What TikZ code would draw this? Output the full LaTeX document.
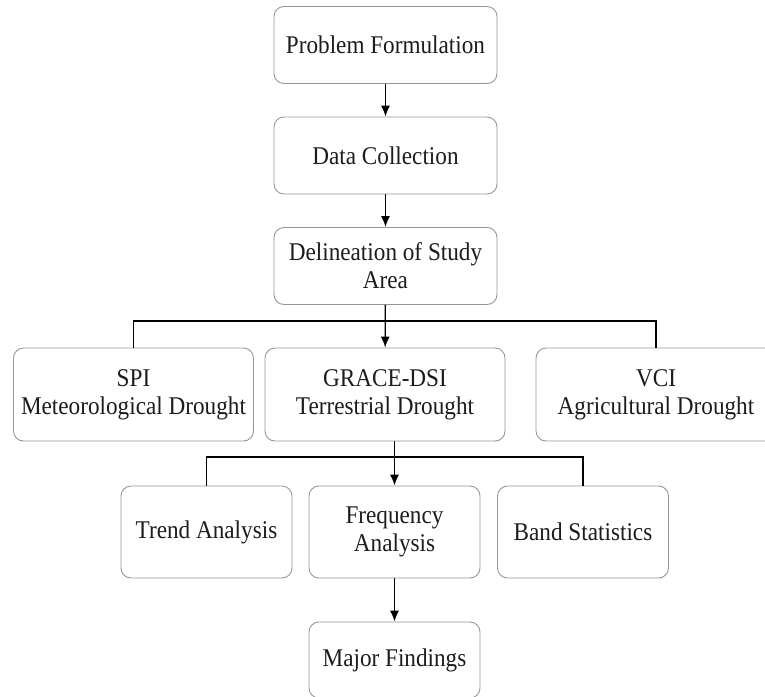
\documentclass[tikz,border=0pt]{standalone}
\usepackage{fontspec}
\setmainfont{Liberation Serif}[FakeStretch=0.91]
\usetikzlibrary{arrows.meta,calc}
\definecolor{boxline}{RGB}{150,150,150}
\definecolor{inktext}{RGB}{28,28,28}

\tikzset{
    stagebox/.style={draw=boxline, line width=0.9pt, rounded corners=10pt,
        align=center, text=inktext, inner sep=0pt,
        font=\fontsize{25.5}{28}\selectfont},
    topbox/.style={stagebox, minimum width=223pt, minimum height=77pt},
    indexbox/.style={stagebox, minimum width=240pt, minimum height=93pt},
    stepbox/.style={stagebox, minimum width=171pt, minimum height=92pt},
    flowline/.style={line width=1.3pt, black},
    flowarrow/.style={flowline, -{Latex[length=11pt,width=9pt]}}
}

\begin{document}
\begin{tikzpicture}[x=1pt, y=-1pt]
    \useasboundingbox (0,0) rectangle (765,696);
    \clip (0,0) rectangle (765,696);

    % main column
    \node[topbox] (prob) at (385.5,45) {Problem Formulation};
    \node[topbox] (collect) at (385.5,155.5) {Data Collection};
    \node[topbox] (delin) at (385.5,266) {Delineation of Study\\Area};

    % drought indices
    \node[indexbox] (spi) at (133.5,394.5) {SPI\\Meteorological Drought};
    \node[indexbox] (grace) at (385,394.5) {GRACE-DSI\\Terrestrial Drought};
    \node[indexbox] (vci) at (656,394.5) {VCI\\Agricultural Drought};

    % analyses
    \node[stepbox] (trend) at (206.5,532) {Trend Analysis};
    \node[stepbox] (freq) at (394.5,532) {Frequency\\Analysis};
    \node[stepbox] (band) at (583,532) {Band Statistics};

    \node[stepbox, minimum height=76pt] (findings) at (394.5,660) {Major Findings};

    \coordinate (split1) at (385,321);
    \coordinate (split2) at (394.5,457);

    \draw[flowarrow] (prob) -- (collect);
    \draw[flowarrow] (collect) -- (delin);
    \draw[flowarrow] (delin) -- (grace);
    \draw[flowline] (spi.north) |- (split1) -| (vci.north);

    \draw[flowarrow] (grace.south -| freq.north) -- (freq.north);
    \draw[flowline] (trend.north) |- (split2) -| (band.north);
    \draw[flowarrow] (freq) -- (findings);
\end{tikzpicture}
\end{document}
